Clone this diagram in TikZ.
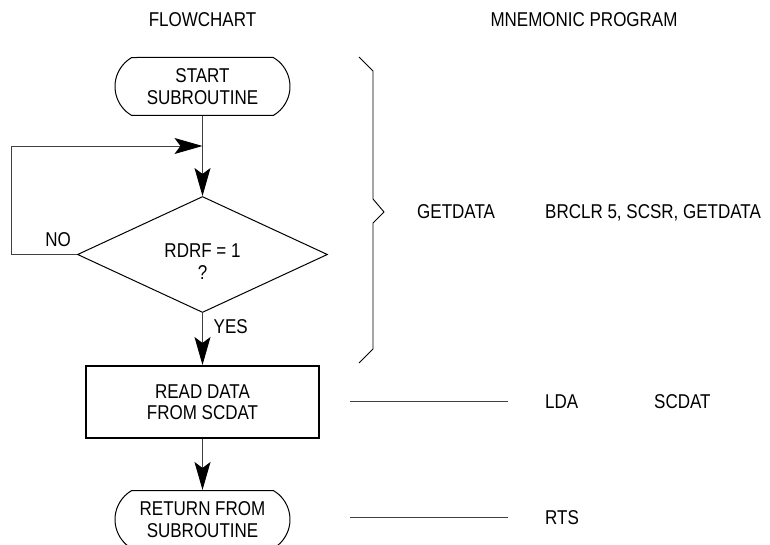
\documentclass[tikz,border=0pt]{standalone}
\usepackage{fontspec}
\setmainfont{Liberation Sans}[FakeStretch=0.85]
\usetikzlibrary{arrows.meta,positioning,shapes.geometric,shapes.misc,calc}

\begin{document}
\begin{tikzpicture}[x=1pt,y=1pt,font=\fontsize{20}{21.5}\selectfont,
  >={Stealth[length=28pt,width=16pt,inset=6pt,color=black]},node distance=52pt,
  term/.style={rounded rectangle,rounded rectangle arc length=120,draw,line width=1pt,
    minimum width=175pt,minimum height=58pt,inner sep=0pt,align=center},
  decision/.style={diamond,draw,line width=1pt,minimum width=250pt,minimum height=116pt,
    aspect=2.155,inner sep=0pt},
  proc/.style={rectangle,draw,line width=2pt,minimum width=233pt,minimum height=72pt,align=center},
  txt/.style={inner sep=0pt,align=center,text depth=0pt},
  ln/.style={draw=black!75,line width=0.9pt}]
\useasboundingbox (0,0) rectangle (770,-545);
% headings
\node[txt](h0) at (202.5,-19.5){FLOWCHART};
\node[txt](h1) at (584,-19.5){MNEMONIC PROGRAM};
% flowchart
\node[term](s0) at (202.5,-86.5){START\\SUBROUTINE};
\node[decision,below=80pt of s0](d0){};
\node[txt](q0) at ([yshift=-7pt]d0.center){RDRF = 1\\?};
\node[proc,below=52pt of d0](r0){READ DATA\\FROM SCDAT};
\node[term,below=51pt of r0](e0){RETURN FROM\\SUBROUTINE};
\coordinate (k0) at ($(s0.south)!0.375!(d0.north)$);
\draw[ln,->](s0)--(d0); \draw[ln,->](d0)--(r0); \draw[ln,->](r0)--(e0);
\draw[ln,->](d0.west)--++(-66pt,0)|-(k0);
\node[txt,above left=8pt and 6pt of d0.west](n0){NO};
\node[txt,below right=6pt and 11pt of d0.south](y0){YES};
% program
\coordinate (b0) at (384,-212);
\draw[line width=0.9pt](359,-57)--(373,-71)--(373,-199)--(b0)--(373,-223)--(373,-349)--(359,-363);
\node[txt,right=33pt of b0](g0){GETDATA};
\node[txt,anchor=west](g1) at (545,-212){BRCLR 5, SCSR, GETDATA};
\node[txt,anchor=west](l0) at (545,-401.5){LDA};
\node[txt,anchor=west](l1) at (654,-401.5){SCDAT};
\node[txt,anchor=west](l2) at (545,-517.5){RTS};
\coordinate[left=195pt of l0](m0); \coordinate[left=37pt of l0](m1);
\coordinate[left=195pt of l2](m2); \coordinate[left=37pt of l2](m3);
\draw[ln](m0)--(m1); \draw[ln](m2)--(m3);
\end{tikzpicture}
\end{document}
